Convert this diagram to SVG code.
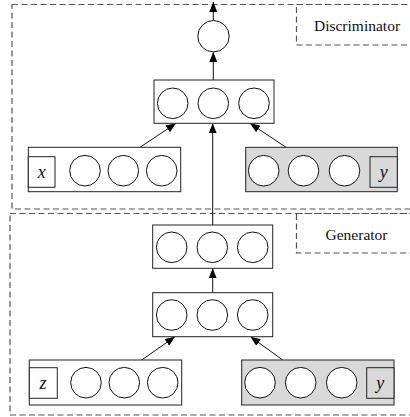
<svg xmlns="http://www.w3.org/2000/svg" width="410" height="417" viewBox="0 0 410 417">
<defs>
<marker id="ah" viewBox="0 0 10 8" refX="10" refY="4" markerWidth="10" markerHeight="8" markerUnits="userSpaceOnUse" orient="auto">
<path d="M0,0 L10,4 L0,8 Z" fill="#000"/>
</marker>
</defs>
<style>
.dash{fill:none;stroke:#555;stroke-width:1.2;stroke-dasharray:6 3.5}
.box{fill:#fff;stroke:#222;stroke-width:1}
.gbox{fill:#d9d9d9;stroke:#222;stroke-width:1}
.c{fill:#fff;stroke:#111;stroke-width:1}
.lab{font-size:15.5px;fill:#111}
.var{font-size:18px;font-style:italic;fill:#111}
.con{stroke:#111;stroke-width:1;fill:none;marker-end:url(#ah)}
</style>
<rect width="410" height="417" fill="#fff"/>
<g id="discriminator-region">
<rect class="dash" x="12" y="4.5" width="420" height="204.5"/>
<rect class="dash" x="296.5" y="4.5" width="130" height="40.5"/>
<text class="lab" font-family="Liberation Serif, Times New Roman, serif" x="357" y="31" text-anchor="middle">Discriminator</text>
</g>
<g id="generator-region">
<rect class="dash" x="10" y="213.5" width="420" height="201.5"/>
<rect class="dash" x="296.5" y="213.5" width="130" height="39.5"/>
<text class="lab" font-family="Liberation Serif, Times New Roman, serif" x="356.5" y="239.5" text-anchor="middle">Generator</text>
</g>
<g id="connectors">
<line class="con" x1="213.3" y1="20.5" x2="213.3" y2="2"/>
<line class="con" x1="213.3" y1="80" x2="213.3" y2="52"/>
<line class="con" x1="140" y1="147.3" x2="176" y2="123.3"/>
<line class="con" x1="286" y1="147.3" x2="250" y2="123.3"/>
<line class="con" x1="212.7" y1="225" x2="212.7" y2="123.3"/>
<line class="con" x1="212.7" y1="292.7" x2="212.7" y2="268.3"/>
<line class="con" x1="141.7" y1="360" x2="175" y2="336.7"/>
<line class="con" x1="282.7" y1="360" x2="250.5" y2="336.7"/>
</g>
<g id="d-output">
<circle class="c" cx="213.5" cy="36.2" r="15.7"/>
</g>
<g id="d-hidden">
<rect class="box" x="154" y="80" width="120" height="43.3"/>
<circle class="c" cx="172.7" cy="103.3" r="15.3"/>
<circle class="c" cx="213.3" cy="103.3" r="15.3"/>
<circle class="c" cx="254" cy="103.3" r="15.3"/>
</g>
<g id="d-input-x">
<rect class="box" x="28.3" y="147.3" width="152.4" height="44.4"/>
<rect class="box" x="28.3" y="156.7" width="26.7" height="30.6"/>
<text class="var" font-family="Liberation Serif, Times New Roman, serif" x="41.7" y="177.5" text-anchor="middle">x</text>
<circle class="c" cx="85" cy="170.7" r="15.3"/>
<circle class="c" cx="123.3" cy="170.7" r="15.3"/>
<circle class="c" cx="161.7" cy="170.7" r="15.3"/>
</g>
<g id="d-input-y">
<rect class="gbox" x="245.7" y="147.3" width="151.6" height="44.4"/>
<rect class="gbox" x="370" y="156.7" width="27.3" height="30.6"/>
<text class="var" font-family="Liberation Serif, Times New Roman, serif" x="383.7" y="177.5" text-anchor="middle">y</text>
<circle class="c" cx="263.7" cy="170.7" r="15.3"/>
<circle class="c" cx="303.5" cy="170.7" r="15.3"/>
<circle class="c" cx="344.5" cy="170.7" r="15.3"/>
</g>
<g id="g-output">
<rect class="box" x="152.7" y="225" width="120" height="43.3"/>
<circle class="c" cx="171.7" cy="247.3" r="15.3"/>
<circle class="c" cx="212.3" cy="247.3" r="15.3"/>
<circle class="c" cx="252.7" cy="247.3" r="15.3"/>
</g>
<g id="g-hidden">
<rect class="box" x="152.7" y="292.7" width="120" height="44"/>
<circle class="c" cx="171.7" cy="315" r="15.3"/>
<circle class="c" cx="212.3" cy="315" r="15.3"/>
<circle class="c" cx="252.7" cy="315" r="15.3"/>
</g>
<g id="g-input-z">
<rect class="box" x="29.3" y="360" width="152.4" height="45"/>
<rect class="box" x="29.3" y="367.7" width="28" height="30.6"/>
<text class="var" font-family="Liberation Serif, Times New Roman, serif" x="43" y="389" text-anchor="middle">z</text>
<circle class="c" cx="86" cy="382.7" r="15.3"/>
<circle class="c" cx="124.3" cy="382.7" r="15.3"/>
<circle class="c" cx="162.7" cy="382.7" r="15.3"/>
</g>
<g id="g-input-y">
<rect class="gbox" x="241.7" y="360" width="152.3" height="45"/>
<rect class="gbox" x="366.7" y="367.7" width="27.3" height="30.6"/>
<text class="var" font-family="Liberation Serif, Times New Roman, serif" x="380.3" y="389" text-anchor="middle">y</text>
<circle class="c" cx="260" cy="382.7" r="15.3"/>
<circle class="c" cx="300.7" cy="382.7" r="15.3"/>
<circle class="c" cx="341.7" cy="382.7" r="15.3"/>
</g>
</svg>
